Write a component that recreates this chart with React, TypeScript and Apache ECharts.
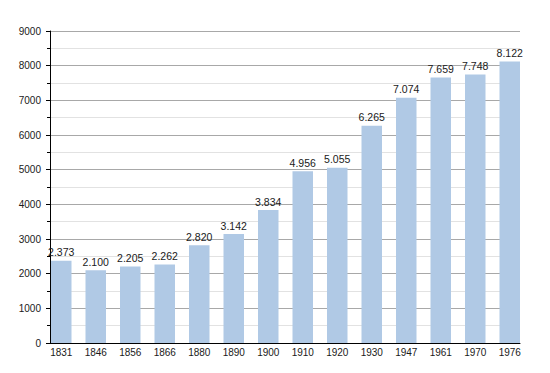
import React, { useEffect, useRef } from "react";
import * as echarts from "echarts";

const years = ["1831", "1846", "1856", "1866", "1880", "1890", "1900", "1910", "1920", "1930", "1947", "1961", "1970", "1976"];
const population = [2373, 2100, 2205, 2262, 2820, 3142, 3834, 4956, 5055, 6265, 7074, 7659, 7748, 8122];
const yMin = 0;
const yMax = 9000;
const yInterval = 1000;

const fmt = (v: number) => {
  const s = String(Math.round(v));
  return s.replace(/\B(?=(\d{3})+(?!\d))/g, ".");
};

export default function App() {
  const ref = useRef<HTMLDivElement>(null);
  useEffect(() => {
    if (!ref.current) return;
    const chart = echarts.init(ref.current, undefined, { renderer: "svg" });
    const font = "'Liberation Sans', Arial, Helvetica, sans-serif";
    chart.setOption({
      animation: false,
      backgroundColor: "#ffffff",
      grid: [
        { left: 50, right: 30, top: 31, bottom: 30 },
        { left: 44, right: 23, top: 31, bottom: 30 },
      ],
      xAxis: [
        {
          gridIndex: 0,
          type: "category",
          data: years,
          axisLine: { show: true, lineStyle: { color: "#000", width: 1 } },
          axisTick: { show: false },
          axisLabel: { show: false },
          splitLine: { show: false },
        },
        {
          gridIndex: 1,
          type: "category",
          data: years,
          axisLine: { show: false },
          axisTick: { show: false },
          axisLabel: { show: true, color: "#1a1a1a", fontSize: 10, fontFamily: font, margin: 4 },
          splitLine: { show: false },
        },
      ],
      yAxis: [
        {
          gridIndex: 0,
          type: "value",
          min: yMin,
          max: yMax,
          interval: yInterval,
          axisLine: { show: true, lineStyle: { color: "#000", width: 1 } },
          axisTick: { show: true, length: 4, lineStyle: { color: "#000" } },
          minorTick: { show: true, splitNumber: 2, length: 3, lineStyle: { color: "#000" } },
          axisLabel: {
            color: "#1a1a1a",
            fontSize: 10,
            fontFamily: font,
            margin: 9,
            formatter: (v: number) => String(v),
          },
          splitLine: { show: true, lineStyle: { color: "#a8a8a8", width: 1 } },
          minorSplitLine: { show: true, lineStyle: { color: "#e2e2e2", width: 1 } },
        },
        {
          gridIndex: 1,
          type: "value",
          min: yMin,
          max: yMax,
          interval: yInterval,
          show: false,
          splitLine: { show: false },
        },
      ],
      series: [
        {
          type: "bar",
          xAxisIndex: 1,
          yAxisIndex: 1,
          data: population,
          barWidth: 20.5,
          itemStyle: { color: "#b0c9e5" },
          label: {
            show: true,
            position: "top",
            distance: 3,
            color: "#1a1a1a",
            fontSize: 10.5,
            fontFamily: font,
            formatter: (p: any) => fmt(p.value),
          },
        },
      ],
    });
    return () => chart.dispose();
  }, []);
  return <div ref={ref} style={{ width: 550, height: 373, margin: -8 }} />;
}
